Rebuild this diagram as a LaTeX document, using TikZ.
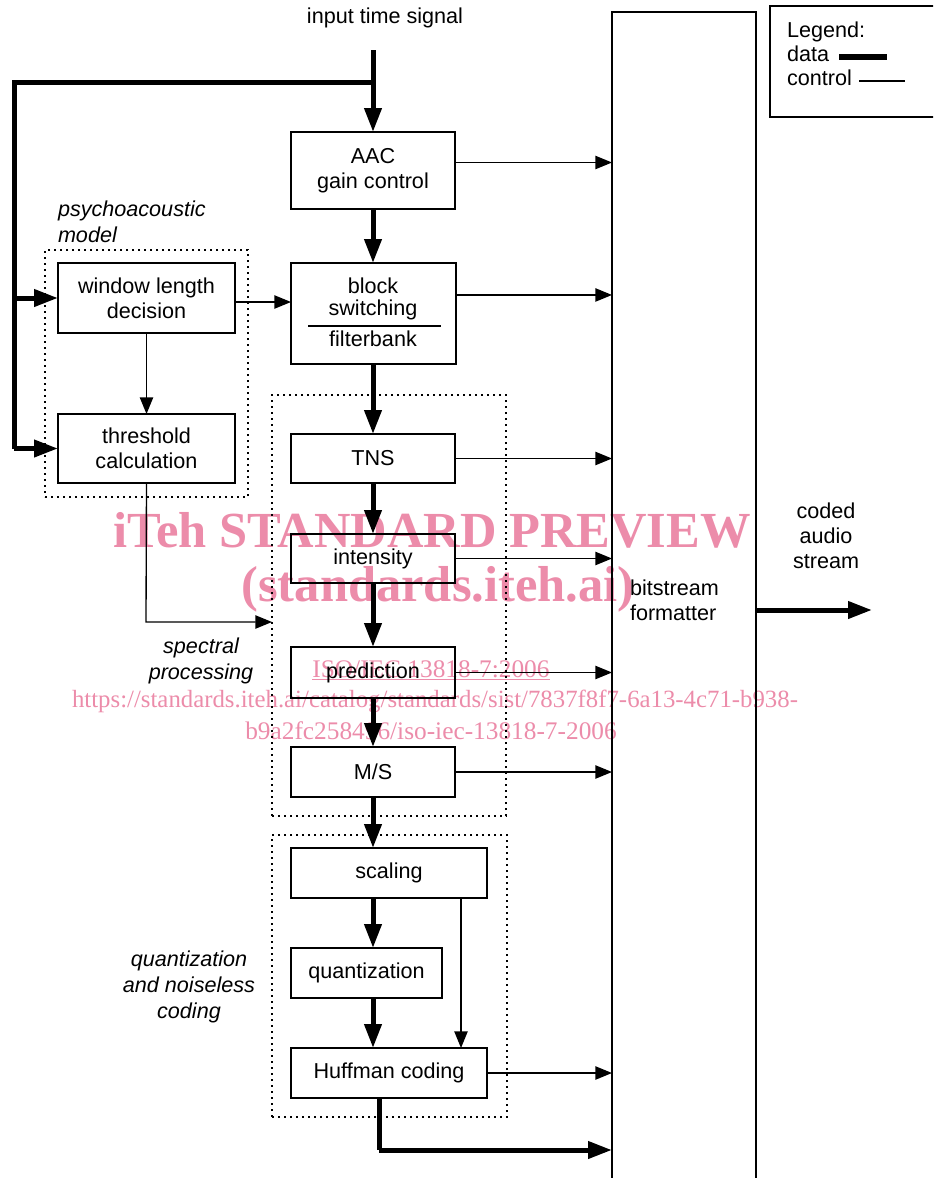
\documentclass[tikz,border=0pt]{standalone}
\usepackage{fontspec}
\setmainfont{Liberation Sans}
\newfontfamily\wmfont{Liberation Serif}
\usetikzlibrary{arrows.meta}
\definecolor{wmpink}{RGB}{236,140,170}
\tikzset{
  x=0.75pt, y=-0.75pt,
  every node/.style={font=\fontsize{16.2}{18.75}\selectfont, inner sep=0pt, outer sep=0pt},
  blk/.style={draw, line width=1pt, align=center},
  grp/.style={draw, line width=1.6pt, dash pattern=on 1.4pt off 3.1pt},
  data/.style={line width=3.75pt, -{Triangle[length=18pt,width=12.5pt]}},
  dataline/.style={line width=3.75pt},
  ctrl/.style={line width=1pt, -{Triangle[length=12.5pt,width=10pt]}},
  ctrlline/.style={line width=1pt},
  lbl/.style={font=\fontsize{16.2}{19.5}\selectfont\itshape, align=center},
  wmbig/.style={text=wmpink, font=\wmfont\bfseries\fontsize{37.9}{40}\selectfont, anchor=base},
  wmsmall/.style={text=wmpink, font=\wmfont\fontsize{19}{20}\selectfont, anchor=base},
}
\begin{document}
\begin{tikzpicture}
\useasboundingbox (0,0) rectangle (933,1178);
\clip (0,0) rectangle (933,1178);

% watermark (behind)
\node[wmbig] (wm1) at (432,547) {iTeh STANDARD PREVIEW};
\node[wmbig] (wm2) at (438,601) {(standards.iteh.ai)};
\node[wmsmall] (wm3) at (431,677) {\underline{ISO/IEC 13818-7:2006}};
\node[wmsmall, font=\wmfont\fontsize{18.6}{20}\selectfont] (wm4) at (435,707) {https://standards.iteh.ai/catalog/standards/sist/7837f8f7-6a13-4c71-b938-};
\node[wmsmall] (wm5) at (431,739) {b9a2fc258496/iso-iec-13818-7-2006};

% group boxes
\node[grp, minimum width=152.25pt, minimum height=185.25pt] (psy) at (146.5,373.5) {};
\node[grp, minimum width=175.5pt, minimum height=315.75pt] (spec) at (389,605.5) {};
\node[grp, minimum width=176.25pt, minimum height=211.5pt] (quant) at (389.5,976) {};

% blocks
\node[blk, minimum width=123pt, minimum height=57.75pt] (aac) at (373,170.5) {AAC\\gain control};
\node[blk, minimum width=132.75pt, minimum height=52.5pt] (win) at (146.5,298) {window length\\decision};
\node[blk, minimum width=132.75pt, minimum height=51.75pt] (thr) at (146.5,448.5) {threshold\\calculation};
\node[blk, minimum width=123.75pt, minimum height=75.75pt] (blkfb) at (373.5,313.5) {};
\node (blkt1) at (373,286) {block};
\node (blkt2) at (373,310) {switching};
\node (blkt3) at (373,339) {filterbank};
\draw[line width=2pt] (308,326) -- (441,326);
\node[blk, minimum width=123pt, minimum height=36.75pt] (tns) at (373,458.5) {TNS};
\node[blk, minimum width=123pt, minimum height=36.75pt] (int) at (373,558.5) {intensity};
\node[blk, minimum width=123pt, minimum height=38.25pt] (pred) at (373,672.5) {prediction};
\node[blk, minimum width=123pt, minimum height=37.5pt] (ms) at (373,772) {M/S};
\node[blk, minimum width=147pt, minimum height=37.5pt] (scal) at (389,873) {scaling};
\node[blk, minimum width=113.25pt, minimum height=37.5pt] (qz) at (366.5,973) {quantization};
\node[blk, minimum width=147pt, minimum height=37.5pt] (huff) at (389,1073) {Huffman coding};
\node[blk, minimum width=108pt, minimum height=891pt] (bsf) at (684,606) {};
\node[anchor=west, align=left] (bsft) at (630,600) {bitstream\\formatter};

% legend
\node[blk, minimum width=135pt, minimum height=83.25pt] (leg) at (860,61.5) {};
\node[anchor=west, align=left, font=\fontsize{16.2}{18}\selectfont] (legt) at (787,54) {Legend:\\data\\control};
\coordinate (ld1) at (839,57); \coordinate (ld2) at (887,57);
\coordinate (lc1) at (859,81); \coordinate (lc2) at (905,81);
\draw[line width=4.5pt] (ld1) -- (ld2);
\draw[ctrlline] (lc1) -- (lc2);

% labels
\node (inlbl) at (385,18) {input time signal};
\node[lbl, anchor=west, align=left] (psylbl) at (58,221.5) {psychoacoustic\\model};
\node[lbl] (speclbl) at (201,660.5) {spectral\\processing};
\node[lbl] (qlbl) at (189,987) {quantization\\and noiseless\\coding};
\node[align=center] (outlbl) at (826,536) {coded\\audio\\stream};

% input data path
\coordinate (in) at (373,50);
\coordinate (br) at (373,82);
\coordinate (lt) at (14,82);
\coordinate (lw) at (14,298);
\coordinate (lb) at (14,448.5);
\draw[data] (in) -- (aac.north);
\draw[dataline, line join=miter] (br) -- (lt) -- (lb);
\draw[data] (lw) -- (win.west);
\draw[data] (lb) -- (thr.west);

% data chain
\draw[data] (aac.south) -- (aac.south |- blkfb.north);
\draw[data] (blkfb.south -| tns.north) -- (tns.north);
\draw[data] (tns.south) -- (int.north);
\draw[data] (int.south) -- (pred.north);
\draw[data] (pred.south) -- (ms.north);
\draw[data] (ms.south) -- (ms.south |- scal.north);
\draw[data] (scal.south -| qz.north -| ms.south) -- (ms.south |- qz.north);
\draw[data] (qz.south -| ms.south) -- (ms.south |- huff.north);
\coordinate (hb) at (379,1150);
\draw[dataline, line join=miter] (huff.south -| hb) -- (hb);
\draw[data] (hb) -- (hb -| bsf.west);
\coordinate (outend) at (872,610);
\draw[data] (bsf.east |- outend) -- (outend);

% control paths
\draw[ctrl] ([yshift=6pt]aac.east) -- ([yshift=6pt]aac.east -| bsf.west);
\draw[ctrl] ([yshift=13.9pt]blkfb.east) -- ([yshift=13.9pt]blkfb.east -| bsf.west);
\draw[ctrl] ([yshift=-3pt]win.east) -- ([yshift=-3pt]win.east -| blkfb.west);
\draw[ctrl] (win.south) -- (thr.north);
\coordinate (tc) at (146,622);
\draw[ctrl] (thr.south) -- (tc) -- (tc -| spec.west);
\draw[ctrl] (tns.east) -- (tns.east -| bsf.west);
\draw[ctrl] (int.east) -- (int.east -| bsf.west);
\draw[ctrl] (pred.east) -- (pred.east -| bsf.west);
\draw[ctrl] (ms.east) -- (ms.east -| bsf.west);
\draw[ctrl] (huff.east) -- (huff.east -| bsf.west);
\coordinate (sh) at (461,898);
\draw[ctrl] (scal.south -| sh) -- (huff.north -| sh);
\end{tikzpicture}
\end{document}
